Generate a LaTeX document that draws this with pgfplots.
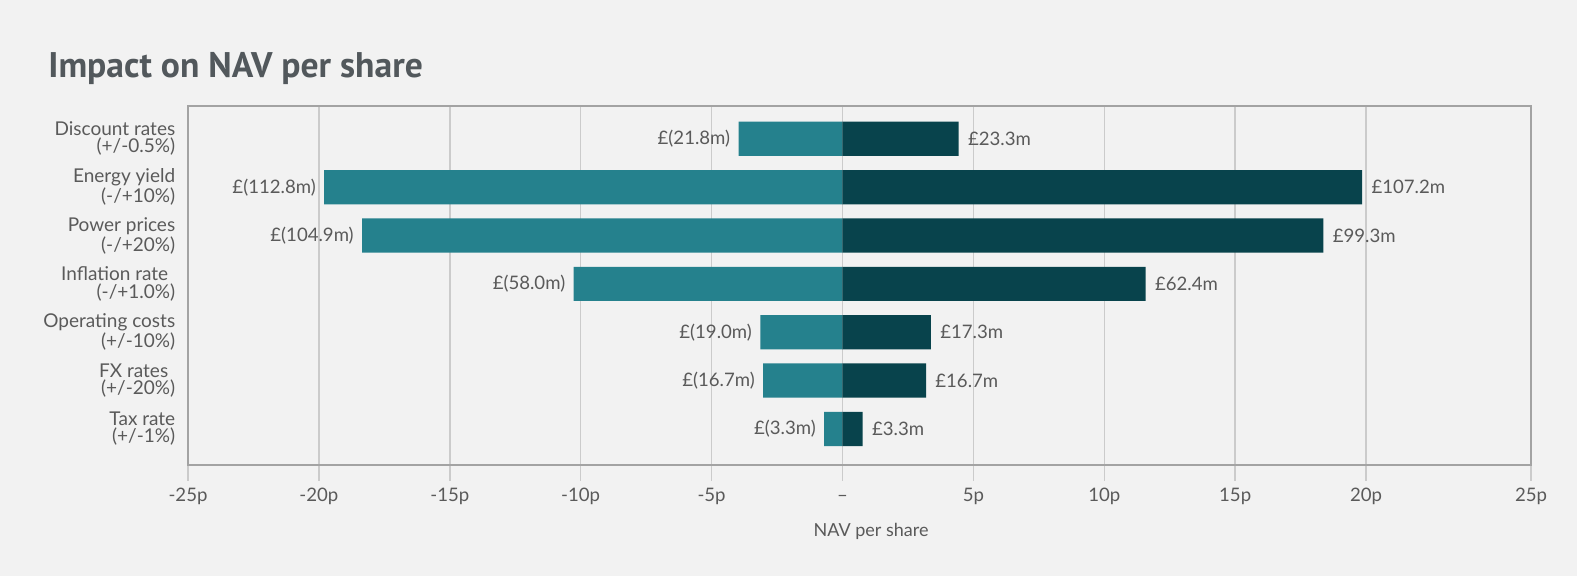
\documentclass[border=0pt]{standalone}
\usepackage{pgfplots}
\pgfplotsset{compat=1.18}
\usepackage{pgfplotstable}
\usepackage{fontspec}
\setmainfont{Lato}
\newfontfamily\titlefont{PT Sans}

\definecolor{bgc}{HTML}{F2F2F2}
\definecolor{downc}{HTML}{25818D}
\definecolor{upc}{HTML}{08434C}
\definecolor{txtc}{HTML}{5A5A5A}
\definecolor{titlec}{HTML}{52585C}
\definecolor{framec}{HTML}{A3A3A3}
\definecolor{gridc}{HTML}{CBCBCB}

% Sensitivity of NAV per share (pence) to each input, down and up cases
\pgfplotstableread[col sep=comma]{
row,low,lowlab,high,highlab
0,-3.97,£(21.8m),4.44,£23.3m
1,-19.80,£(112.8m),19.85,£107.2m
2,-18.35,£(104.9m),18.37,£99.3m
3,-10.27,£(58.0m),11.58,£62.4m
4,-3.14,£(19.0m),3.38,£17.3m
5,-3.03,£(16.7m),3.19,£16.7m
6,-0.70,£(3.3m),0.77,£3.3m
}\sens

\begin{document}
\begin{tikzpicture}[x=1pt,y=1pt]
\fill[bgc] (0,0) rectangle (788.5,288);
\node[anchor=base west, inner sep=0pt, text=titlec,
      font=\titlefont\bfseries\fontsize{17.8}{17.8}\selectfont] at (24,249) {Impact on NAV per share};
\begin{axis}[
  at={(94pt,55.7pt)}, anchor=south west,
  scale only axis, width=671.5pt, height=179.5pt,
  xmin=-25, xmax=26.3, ymin=-0.687, ymax=6.738, y dir=reverse,
  xbar, bar width=17.1pt, bar shift=0pt,
  axis line style={draw=framec, line width=1pt},
  xtick={-25,-20,-15,-10,-5,0,5,10,15,20,26.3},
  xticklabels={-25p,-20p,-15p,-10p,-5p,--,5p,10p,15p,20p,25p},
  xtick pos=lower, tick align=outside, major tick length=8pt,
  xtick style={draw=gridc, line width=0.75pt},
  xmajorgrids, major grid style={draw=gridc, line width=0.75pt},
  ytick={0,...,6},
  ytick style={draw=none},
  yticklabels={{Discount rates\\(+/-0.5\%)},{Energy yield\\(-/+10\%)},{Power prices\\(-/+20\%)},{Inflation rate\hspace*{3.5pt}\\(-/+1.0\%)},{Operating costs\\(+/-10\%)},{FX rates\hspace*{3.5pt}\\(+/-20\%)},{Tax rate\\(+/-1\%)}},
  yticklabel style={align=right, anchor=east, inner sep=0pt, xshift=1.8pt, text=txtc,
     font=\fontsize{9.5}{8.6}\selectfont},
  xticklabel style={anchor=base, inner sep=0pt, yshift=-10.6pt, text=txtc,
     font=\fontsize{9.3}{9.3}\selectfont},
  xlabel={NAV per share},
  xlabel style={at={(axis description cs:0.5086,0)}, anchor=center, yshift=-33.2pt,
     inner sep=0pt, text=txtc, font=\fontsize{9}{9}\selectfont},
  point meta=explicit symbolic,
  nodes near coords,
  nodes near coords style={text=txtc, inner sep=0pt, font=\fontsize{9.3}{9.3}\selectfont},
]
\addplot[fill=downc, draw=none,
  every node near coord/.append style={anchor=east, xshift=-4pt}]
  table[x=low, y=row, meta=lowlab] {\sens};
\addplot[fill=upc, draw=none,
  every node near coord/.append style={anchor=west, xshift=4.5pt}]
  table[x=high, y=row, meta=highlab] {\sens};
\end{axis}
\pgfresetboundingbox
\useasboundingbox (0,0) rectangle (788.5,288);
\end{tikzpicture}
\end{document}
